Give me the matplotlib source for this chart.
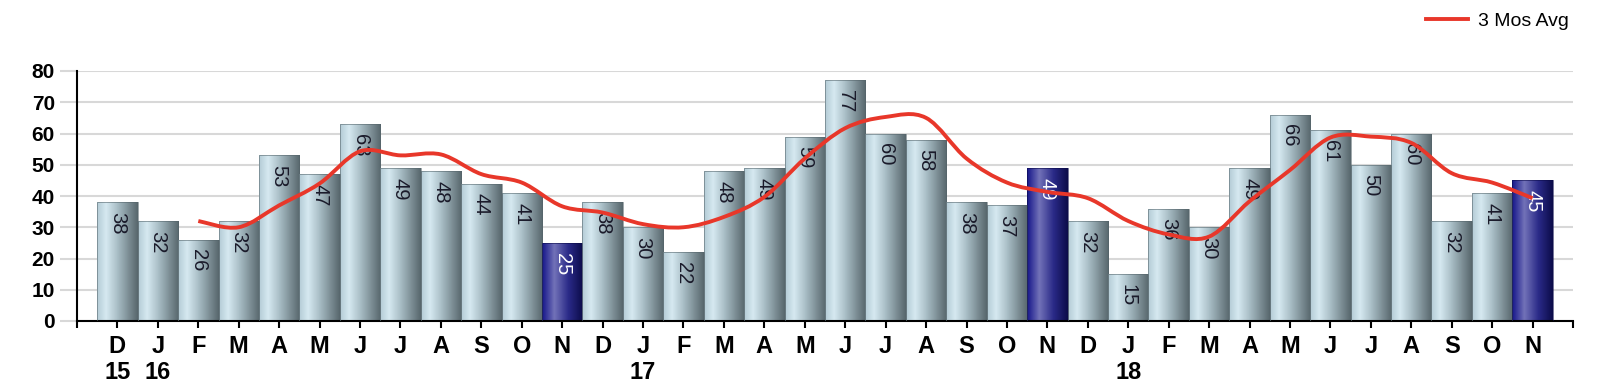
import numpy as np
import matplotlib
matplotlib.use("Agg")
import matplotlib.pyplot as plt
from matplotlib.path import Path
from matplotlib.patches import PathPatch, Rectangle
from matplotlib.colors import LinearSegmentedColormap

plt.rcParams['font.family'] = ['Liberation Sans', 'DejaVu Sans']

months = ["D", "J", "F", "M", "A", "M", "J", "J", "A", "S", "O", "N",
          "D", "J", "F", "M", "A", "M", "J", "J", "A", "S", "O", "N",
          "D", "J", "F", "M", "A", "M", "J", "J", "A", "S", "O", "N"]
years = {0: "15", 1: "16", 13: "17", 25: "18"}
values = [38, 32, 26, 32, 53, 47, 63, 49, 48, 44, 41, 25,
          38, 30, 22, 48, 49, 59, 77, 60, 58, 38, 37, 49,
          32, 15, 36, 30, 49, 66, 61, 50, 60, 32, 41, 45]
highlight = [11, 23, 35]
# 3 month average, starts at the 3rd bar
avg = [32, 30, 37, 44, 54.3, 53, 53.3, 47, 44.3, 36.7,
       34.7, 31, 30, 33.3, 39.7, 52, 61.7, 65.3, 65, 52, 44.3, 41.3,
       39.3, 32, 27.7, 27, 38.3, 48.3, 58.7, 59, 57, 47.3, 44.3, 39.3]

light = LinearSegmentedColormap.from_list("light", [
    (0.0, "#b4ccd6"), (0.22, "#d6e9f1"), (0.5, "#a9bec6"), (1.0, "#58676d")])
dark = LinearSegmentedColormap.from_list("dark", [
    (0.0, "#16168a"), (0.3, "#7272b8"), (0.65, "#2a2a88"), (1.0, "#0c0c4a")])
grad = np.linspace(0, 1, 64).reshape(1, -1)

fig = plt.figure(figsize=(16, 3.91), dpi=100)
ax = fig.add_axes([77 / 1600, 1 - 321 / 391, 1496 / 1600, 250 / 391])

ax.set_axisbelow(True)
ax.yaxis.grid(True, color="#d8d8d8", linewidth=1.5)

w = 1.0
for i, v in enumerate(values):
    cmap = dark if i in highlight else light
    rect = Rectangle((i - w / 2, 0), w, v, facecolor="none",
                     edgecolor="#55656b" if i not in highlight else "#0c0c4a",
                     linewidth=0.4, zorder=3)
    ax.add_patch(rect)
    im = ax.imshow(grad, cmap=cmap, aspect="auto", zorder=2,
                   extent=[i - w / 2, i + w / 2, 0, v], interpolation="bilinear")
    im.set_clip_path(rect)
    ax.annotate(str(v), (i, v), xytext=(0, -7), textcoords="offset points",
                rotation=270, ha="center", va="top", fontsize=14.5,
                color="white" if i in highlight else "#1a1a2a", zorder=4)

# smooth average line (Catmull-Rom as cubic Bezier)
xs = np.arange(2, 2 + len(avg))
pts = np.column_stack([xs, avg])
verts = [pts[0]]
codes = [Path.MOVETO]
for k in range(len(pts) - 1):
    p0 = pts[k - 1] if k > 0 else pts[k]
    p1, p2 = pts[k], pts[k + 1]
    p3 = pts[k + 2] if k + 2 < len(pts) else pts[k + 1]
    c1 = p1 + (p2 - p0) / 6
    c2 = p2 - (p3 - p1) / 6
    verts += [c1, c2, p2]
    codes += [Path.CURVE4] * 3
ax.add_patch(PathPatch(Path(verts, codes), facecolor="none",
                       edgecolor="#e8372a", linewidth=2.8, zorder=5))
ax.plot([], [], color="#e8372a", linewidth=2.8, label="3 Mos Avg")

ax.set_xlim(-1, 36)
ax.set_ylim(0, 80)
ax.set_yticks(range(0, 81, 10))
ax.tick_params(axis="y", length=12, color="#d8d8d8", width=1.5, pad=4,
               labelsize=15)
for t in ax.get_yticklabels():
    t.set_fontweight("bold")

ax.set_xticks(range(-1, 37))
labels = [""] + [m + ("\n" + years[i] if i in years else "")
                 for i, m in enumerate(months)] + [""]
ax.set_xticklabels(labels, fontsize=17, fontweight="bold", linespacing=1.2)
ax.tick_params(axis="x", length=5, width=1.5, color="black", pad=5)

for s in ["top", "right"]:
    ax.spines[s].set_visible(False)
ax.spines["left"].set_linewidth(1.5)
ax.spines["bottom"].set_linewidth(1.5)

fig.legend(loc="center left", bbox_to_anchor=(1408 / 1600, 1 - 21 / 391),
           frameon=False, fontsize=14, handlelength=2.2, handletextpad=0.5)

fig.savefig("out.png", dpi=100)
